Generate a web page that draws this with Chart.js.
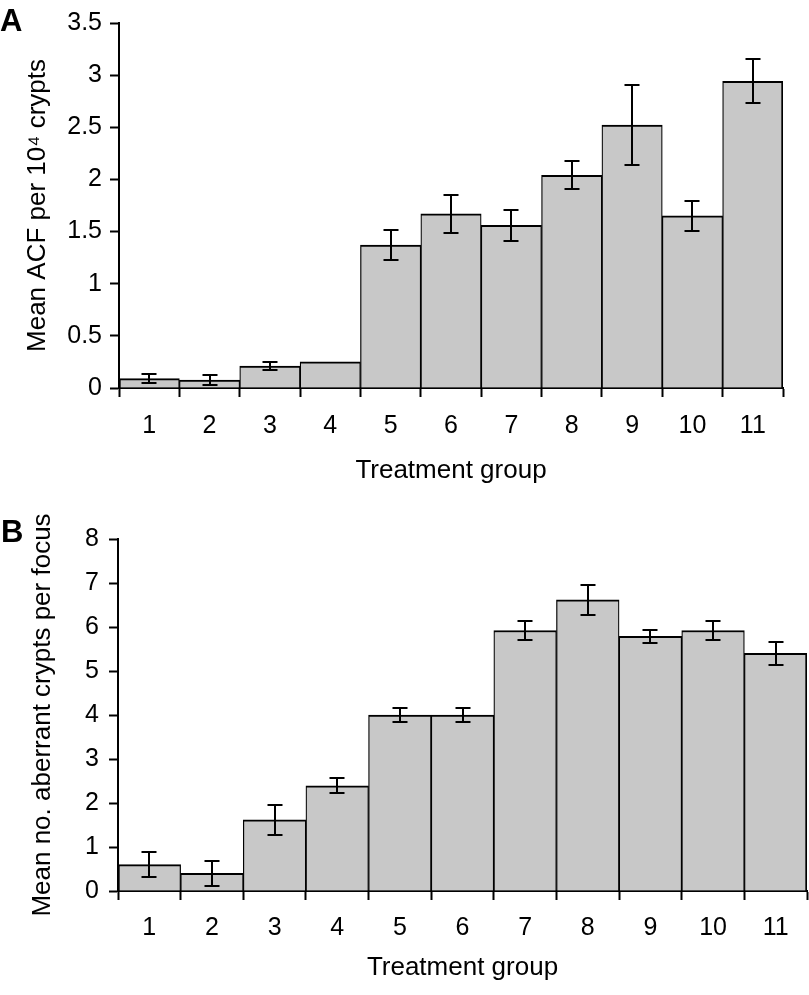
<!DOCTYPE html>
<html>
<head>
<meta charset="utf-8">
<script src="https://cdn.jsdelivr.net/npm/chart.js@4.4.1/dist/chart.umd.min.js"></script>
<style>
  html, body { margin: 0; padding: 0; background: #fff; }
  body { width: 809px; height: 995px; position: relative; overflow: hidden; font-family: "Liberation Sans", Arial, sans-serif; }
  canvas { position: absolute; left: 0; }
  .panel { position: absolute; font-weight: bold; font-size: 31px; line-height: 31px; color: #000; z-index: 2; }
</style>
</head>
<body>
<div class="panel" style="left:0px; top:5px;">A</div>
<div class="panel" style="left:1px; top:516px;">B</div>
<canvas id="chartA" width="809" height="500" style="top:0px"></canvas>
<canvas id="chartB" width="809" height="495" style="top:500px"></canvas>
<script>
// ---- data ----
const categories = ['1', '2', '3', '4', '5', '6', '7', '8', '9', '10', '11'];

const valuesA = [0.09, 0.075, 0.21, 0.25, 1.37, 1.67, 1.56, 2.04, 2.52, 1.65, 2.94];
const errorsA = [0.04, 0.045, 0.035, 0, 0.145, 0.18, 0.15, 0.135, 0.385, 0.145, 0.21];
const yTicksA = [0, 0.5, 1, 1.5, 2, 2.5, 3, 3.5];

const valuesB = [0.6, 0.4, 1.62, 2.39, 4.0, 4.0, 5.92, 6.62, 5.79, 5.92, 5.4];
const errorsB = [0.28, 0.28, 0.345, 0.17, 0.17, 0.17, 0.21, 0.34, 0.15, 0.21, 0.26];
const yTicksB = [0, 1, 2, 3, 4, 5, 6, 7, 8];

const xTitle = 'Treatment group';
const yTitleA = 'Mean ACF per 10\u2074 crypts';
const yTitleB = 'Mean no. aberrant crypts per focus';

// ---- styling ----
const FONT = '"Liberation Sans", Arial, Helvetica, sans-serif';
const BAR_FILL = '#c8c8c8';

const errorBarPlugin = {
  id: 'errorBars',
  afterDatasetsDraw(chart, args, opts) {
    const errs = opts.errors || [];
    const meta = chart.getDatasetMeta(0);
    const yScale = chart.scales.y;
    const vals = chart.data.datasets[0].data;
    const ctx = chart.ctx;
    ctx.save();
    ctx.strokeStyle = '#000';
    ctx.lineWidth = 2;
    meta.data.forEach((bar, i) => {
      const e = errs[i];
      if (!e) return;
      const x = Math.round(bar.x);
      const yt = Math.round(yScale.getPixelForValue(vals[i] + e));
      const yb = Math.round(yScale.getPixelForValue(vals[i] - e));
      const cw = 7.5;
      ctx.beginPath();
      ctx.moveTo(x, yt); ctx.lineTo(x, yb);
      ctx.moveTo(x - cw, yt); ctx.lineTo(x + cw, yt);
      ctx.moveTo(x - cw, yb); ctx.lineTo(x + cw, yb);
      ctx.stroke();
    });
    ctx.restore();
  }
};

function makeChart(id, values, errors, yTicks, yTitle, cfg) {
  const yMax = yTicks[yTicks.length - 1];
  return new Chart(document.getElementById(id), {
    type: 'bar',
    data: {
      labels: categories,
      datasets: [{
        data: values,
        backgroundColor: BAR_FILL,
        borderColor: '#000',
        borderWidth: (c) => ({ top: 2, bottom: 0, left: c.dataIndex === 0 ? 2 : 1.25, right: c.dataIndex === categories.length - 1 ? 2 : 1.25 }),
        borderSkipped: false,
        barPercentage: 1,
        categoryPercentage: 1
      }]
    },
    options: {
      responsive: false,
      animation: false,
      devicePixelRatio: 1,
      layout: { padding: cfg.padding },
      plugins: {
        legend: { display: false },
        tooltip: { enabled: false },
        errorBars: { errors: errors }
      },
      scales: {
        x: {
          offset: true,
          grid: { offset: true, drawOnChartArea: false, drawTicks: true, tickLength: 9, tickWidth: 2, tickColor: '#000', color: '#000' },
          border: { display: true, color: '#000', width: 2 },
          ticks: { color: '#000', font: { family: FONT, size: 25 }, padding: cfg.xTickPad, maxRotation: 0, autoSkip: false },
          title: { display: true, text: xTitle, color: '#000', font: { family: FONT, size: 26 }, padding: { top: 0, bottom: 0 } },
          afterFit: (s) => { s.height = cfg.xHeight; }
        },
        y: {
          min: 0,
          max: yMax,
          afterBuildTicks: (s) => { s.ticks = yTicks.map(v => ({ value: v })); },
          grid: { drawOnChartArea: false, drawTicks: true, tickLength: 9, tickWidth: 2, tickColor: '#000', color: '#000' },
          border: { display: true, color: '#000', width: 2 },
          ticks: { color: '#000', font: { family: FONT, size: 25 }, padding: cfg.yTickPad, callback: (v) => String(v) },
          title: { display: true, text: yTitle, color: '#000', font: { family: FONT, size: 26 }, padding: { top: cfg.yTitlePad, bottom: 0 } },
          afterFit: (s) => { s.width = cfg.yWidth; }
        }
      }
    },
    plugins: [errorBarPlugin]
  });
}

makeChart('chartA', valuesA, errorsA, yTicksA, yTitleA, {
  padding: { left: 0, right: 26, top: 22, bottom: 14 },
  xHeight: 98, yWidth: 119, xTickPad: 14, yTickPad: 8, yTitlePad: 22
});
makeChart('chartB', valuesB, errorsB, yTicksB, yTitleB, {
  padding: { left: 0, right: 2, top: 39, bottom: 12 },
  xHeight: 92, yWidth: 118, xTickPad: 13, yTickPad: 10, yTitlePad: 27
});
</script>
</body>
</html>
